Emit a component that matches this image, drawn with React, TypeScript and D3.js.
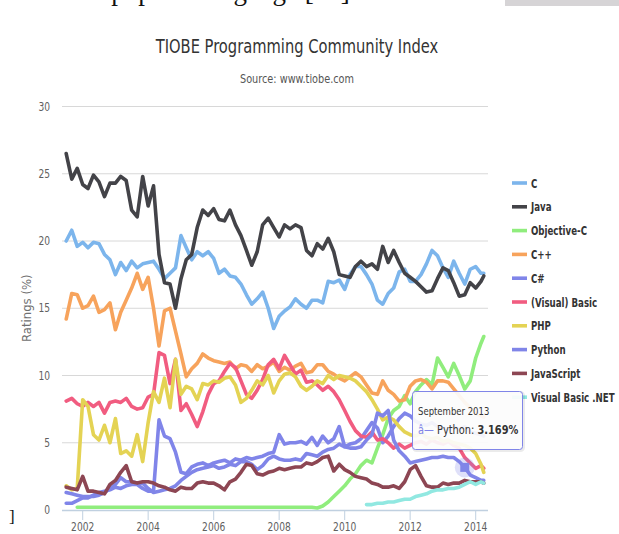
import * as d3 from "d3";

// bimonthly points, Jul 2001 .. Mar 2014, plus the last month (Apr 2014)
const dates: Date[] = [
  ...d3.timeMonth.every(2)!.range(new Date(2001, 6, 1), new Date(2014, 2, 2)),
  new Date(2014, 3, 1),
];

const names = ["C", "Java", "Objective-C", "C++", "C#", "(Visual) Basic", "PHP", "Python", "JavaScript", "Visual Basic .NET"];
const colors = ["#7cb5ec", "#434348", "#90ed7d", "#f7a35c", "#8085e9", "#f15c80", "#e4d354", "#8085e8", "#8d4653", "#91e8e1"];
const yTicks = [0, 5, 10, 15, 20, 25, 30];
const xTicks = [2002, 2004, 2006, 2008, 2010, 2012, 2014];

const cValues = [
  20.0, 20.8, 19.6, 19.9, 19.5, 19.9, 19.8, 19.0, 18.6, 17.5,
  18.4, 17.8, 18.5, 18.0, 18.3, 18.4, 18.5, 17.9, 17.2, 17.6,
  18.0, 20.4, 19.5, 18.6, 19.2, 18.9, 19.2, 18.7, 17.6, 17.9,
  17.4, 17.3, 16.8, 16.0, 15.3, 15.7, 16.2, 15.0, 13.5, 14.4,
  14.8, 15.1, 15.7, 15.3, 15.0, 15.6, 15.6, 15.4, 17.0, 16.9,
  17.1, 16.4, 17.5, 18.1, 18.1, 17.5, 16.8, 15.6, 15.3, 16.1,
  16.5, 17.7, 17.9, 17.0, 17.0, 17.5, 18.3, 19.3, 18.9, 18.0,
  17.3, 18.5, 17.6, 16.8, 17.9, 18.1, 17.6, 17.6,
];
const javaValues = [
  26.5, 24.6, 25.4, 24.2, 23.9, 24.9, 24.4, 23.3, 24.3, 24.3,
  24.8, 24.5, 22.3, 21.8, 24.8, 22.6, 24.1, 19.0, 16.9, 16.8,
  15.0, 17.2, 18.6, 19.0, 21.0, 22.3, 21.9, 22.4, 21.6, 21.5,
  22.3, 21.2, 20.4, 19.3, 18.2, 19.2, 21.2, 21.7, 21.0, 20.3,
  21.2, 20.9, 21.2, 21.0, 19.3, 18.9, 19.8, 19.4, 20.2, 19.2,
  17.5, 17.4, 17.3, 18.1, 18.5, 18.1, 18.3, 17.9, 19.6, 18.4,
  19.3, 18.4, 17.6, 17.3, 17.0, 16.6, 16.2, 16.3, 17.2, 18.0,
  17.8, 16.9, 15.9, 16.0, 16.9, 16.5, 17.0, 17.4,
];
// Objective-C starts in Nov 2001
const objcStart = 2;
const objcValues = [
  0.2, 0.2, 0.2, 0.2, 0.2, 0.2, 0.2, 0.2, 0.2, 0.2,
  0.2, 0.2, 0.2, 0.2, 0.2, 0.2, 0.2, 0.2, 0.2, 0.2,
  0.2, 0.2, 0.2, 0.2, 0.2, 0.2, 0.2, 0.2, 0.2, 0.2,
  0.2, 0.2, 0.2, 0.2, 0.2, 0.2, 0.2, 0.2, 0.2, 0.2,
  0.2, 0.2, 0.2, 0.2, 0.15, 0.3, 0.6, 1.0, 1.4, 1.8,
  2.3, 2.7, 3.3, 3.7, 3.5, 4.6, 5.6, 6.8, 7.4, 7.7,
  8.5, 7.9, 8.8, 9.3, 9.7, 9.3, 11.3, 10.6, 9.9, 10.9,
  10.0, 9.0, 9.6, 11.3, 12.4, 12.9,
];
const cppValues = [
  14.2, 16.1, 16.0, 15.0, 15.2, 15.9, 14.7, 14.9, 15.4, 13.4,
  14.7, 15.6, 16.5, 17.6, 16.4, 17.3, 15.0, 12.2, 14.8, 15.0,
  13.3, 11.6, 9.9, 10.5, 10.9, 11.6, 11.3, 11.1, 11.0, 10.9,
  11.0, 10.5, 10.8, 10.7, 10.3, 10.8, 10.5, 10.7, 11.0, 10.3,
  10.6, 10.4, 10.7, 10.9, 10.2, 10.3, 10.8, 10.8, 10.3, 10.1,
  9.8, 9.6, 9.9, 10.2, 9.9, 9.3, 8.7, 8.6, 9.6, 8.9,
  8.6, 8.1, 8.2, 9.2, 9.6, 9.7, 9.5, 9.0, 9.6, 9.6,
  9.5, 9.0, 8.5, 8.0, 7.6, 7.2, 7.0, 6.9,
];
const csharpValues = [
  0.5, 0.5, 0.7, 0.9, 0.9, 1.1, 1.3, 1.4, 1.5, 1.7,
  1.6, 1.8, 1.9, 1.9, 1.6, 1.4, 1.4, 6.7, 5.5, 5.3,
  4.3, 2.8, 2.7, 3.2, 3.4, 3.5, 3.3, 3.5, 3.6, 3.7,
  3.5, 3.8, 3.7, 3.9, 3.8, 3.9, 4.0, 4.2, 4.3, 5.6,
  4.9, 5.0, 5.0, 5.1, 4.9, 5.4, 4.8, 5.5, 5.0, 5.3,
  6.2, 4.7, 4.9, 5.0, 5.3, 5.9, 6.5, 6.1, 5.0, 5.5,
  6.2, 6.8, 7.2, 7.0, 6.6, 6.4, 6.3, 6.5, 6.2, 6.1,
  6.0, 6.2, 6.0, 6.2, 5.8, 5.7, 5.6, 5.5,
];
const vbValues = [
  8.1, 8.3, 7.9, 7.7, 8.0, 7.7, 8.0, 7.2, 8.0, 8.1,
  8.0, 8.3, 7.7, 7.5, 7.6, 8.4, 8.6, 11.7, 11.5, 9.4,
  11.2, 7.4, 7.9, 7.1, 6.2, 7.3, 8.6, 9.4, 9.6, 10.3,
  10.9, 10.6, 9.6, 8.6, 8.3, 8.9, 9.7, 10.8, 11.2, 10.5,
  11.5, 10.8, 10.1, 10.4, 9.5, 9.6, 9.3, 8.9, 9.2, 8.8,
  8.2, 7.4, 6.6, 5.9, 5.5, 5.4, 5.8, 5.2, 5.3, 5.0,
  4.6, 4.9, 4.6, 4.8, 5.0, 5.1, 4.9, 5.2, 5.0, 4.9,
  5.1, 4.8, 4.6, 3.9, 3.5, 3.1, 3.3, 3.1,
];
const phpValues = [
  1.8, 1.5, 1.6, 8.2, 7.7, 5.6, 5.2, 6.3, 5.0, 6.8,
  4.2, 4.4, 4.0, 5.6, 3.6, 6.5, 8.8, 8.0, 9.8, 7.6,
  11.2, 8.6, 9.2, 9.0, 8.2, 9.4, 9.3, 9.6, 9.5, 9.8,
  9.9, 9.3, 8.0, 8.3, 8.9, 9.6, 9.3, 10.0, 8.7, 9.6,
  10.1, 10.2, 9.9, 9.2, 8.9, 9.2, 9.6, 9.4, 10.0, 9.7,
  10.0, 9.9, 9.8, 9.6, 9.2, 8.8, 8.2, 7.5, 6.7, 6.9,
  6.7, 6.2, 5.8, 5.6, 5.5, 5.7, 5.4, 5.3, 5.4, 5.1,
  5.2, 5.0, 4.9, 4.8, 4.6, 4.2, 3.4, 2.8,
];
const pythonValues = [
  1.3, 1.2, 1.1, 1.0, 1.0, 1.0, 1.1, 1.3, 1.6, 1.9,
  2.4, 2.1, 2.1, 2.0, 2.0, 1.6, 1.3, 1.4, 1.5, 1.6,
  1.8, 2.2, 2.5, 2.8, 3.0, 3.1, 3.2, 3.3, 3.1, 3.2,
  3.4, 3.3, 3.6, 3.6, 3.4, 3.0, 3.3, 3.8, 4.0, 3.8,
  3.7, 3.7, 3.8, 3.7, 4.2, 4.1, 4.0, 4.3, 4.5, 4.6,
  4.9, 4.7, 4.6, 4.6, 4.7, 5.2, 5.6, 7.2, 7.0, 7.4,
  5.2, 4.4, 4.0, 3.5, 3.6, 3.7, 3.8, 3.9, 3.9, 4.0,
  3.9, 3.9, 3.6, 3.169, 2.6, 2.4, 2.2, 2.2,
];
const jsValues = [
  1.7, 1.6, 1.5, 2.5, 1.4, 1.4, 1.3, 1.2, 1.9, 2.2,
  2.8, 3.3, 2.1, 2.0, 2.1, 2.1, 2.0, 1.8, 1.7, 1.5,
  1.4, 1.7, 1.6, 1.6, 2.0, 2.1, 2.0, 2.0, 1.8, 1.5,
  2.1, 2.3, 2.8, 3.4, 3.3, 2.7, 2.6, 2.8, 2.9, 3.1,
  3.0, 3.1, 3.2, 3.2, 3.5, 3.4, 3.6, 3.9, 4.0, 2.9,
  3.4, 3.0, 2.8, 2.5, 2.4, 2.3, 2.0, 1.9, 1.7, 1.7,
  1.8, 1.6, 2.1, 3.0, 3.3, 2.5, 1.8, 1.7, 1.7, 2.0,
  1.9, 2.0, 2.0, 2.2, 2.1, 2.1, 2.1, 2.0,
];
// Visual Basic .NET starts in Jan 2011
const vbnetStart = 55;
const vbnetValues = [
  0.4, 0.4, 0.5, 0.5, 0.6, 0.6, 0.7, 0.8, 0.8, 1.0,
  1.1, 1.2, 1.4, 1.5, 1.5, 1.6, 1.6, 1.7, 1.9, 2.1,
  1.9, 2.1, 2.0,
];

const seriesValues = [cValues, javaValues, objcValues, cppValues, csharpValues, vbValues, phpValues, pythonValues, jsValues, vbnetValues];
const seriesStart = [0, 0, objcStart, 0, 0, 0, 0, 0, 0, vbnetStart];

const tipSeries = 7;
const tipIndex = 73;
const tipLabel = "September 2013";

const W = 619;
const H = 534;
const font = "'DejaVu Sans Condensed', 'DejaVu Sans', sans-serif";
const serif = "'Liberation Serif', 'DejaVu Serif', serif";

// narrow text: the original uses a condensed face, so squeeze the glyphs horizontally
function NText({ x, y, sx = 0.85, children, ...rest }: any) {
  return (
    <g transform={`translate(${x},${y}) scale(${sx},1)`}>
      <text x={0} y={0} {...rest}>{children}</text>
    </g>
  );
}

export default function App() {
  const x = d3.scaleTime([new Date(2002, 0, 1), new Date(2014, 0, 1)], [82.7, 475.7]);
  const y = d3.scaleLinear([0, 30], [510, 106.5]);
  const plotLeft = 62;
  const plotRight = 488;
  const line = d3
    .line<[Date, number]>()
    .x((d) => x(d[0]))
    .y((d) => y(d[1]));

  const tipX = x(dates[tipIndex]);
  const tipY = y(pythonValues[tipIndex]);

  return (
    <svg width={W} height={H} style={{ position: "absolute", left: 0, top: 0, background: "#fff" }} fontFamily={font}>
      {/* bits of the surrounding page */}
      <text x={52} y={-0.5} fontFamily={serif} fontSize={27} fill="#111">most popular language [13].</text>
      <rect x={505} y={0} width={114} height={6} fill="#d6d4d6" />
      <text x={9} y={522} fontFamily={serif} fontSize={17} fill="#111">]</text>

      <NText x={297} y={53} sx={0.86} textAnchor="middle" fontSize={19} fill="#333">TIOBE Programming Community Index</NText>
      <NText x={297} y={83} sx={0.9} textAnchor="middle" fontSize={12} fill="#555">Source: www.tiobe.com</NText>

      {/* grid + y axis */}
      <g>
        {yTicks.map((t) => (
          <g key={t}>
            {t > 0 && <line x1={plotLeft} x2={plotRight} y1={y(t)} y2={y(t)} stroke="#d8d8d8" strokeWidth={1} />}
            <NText x={50} y={y(t) + 4} sx={0.88} textAnchor="end" fontSize={11.5} fill="#606060">{t}</NText>
          </g>
        ))}
        <g transform={`translate(31,${y(15)}) rotate(-90)`}>
          <text x={0} y={0} textAnchor="middle" fontSize={13} fill="#707070">Ratings (%)</text>
        </g>
      </g>

      {/* x axis */}
      <g>
        <line x1={plotLeft} x2={plotRight} y1={510.5} y2={510.5} stroke="#c0d0e0" strokeWidth={1.5} />
        {xTicks.map((t) => {
          const px = x(new Date(t, 0, 1));
          return (
            <g key={t}>
              <line x1={px} x2={px} y1={510} y2={520} stroke="#c0d0e0" strokeWidth={1} />
              <NText x={px} y={531} sx={0.88} textAnchor="middle" fontSize={11.5} fill="#606060">{t}</NText>
            </g>
          );
        })}
      </g>

      {/* series */}
      <g fill="none" strokeLinejoin="round" strokeLinecap="round">
        {seriesValues.map((vals, s) => {
          const pts = vals.map((v, i) => [dates[seriesStart[s] + i], v] as [Date, number]);
          return <path key={names[s]} d={line(pts) || undefined} stroke={colors[s]} strokeWidth={3.6} />;
        })}
      </g>

      {/* hover marker */}
      <circle cx={tipX} cy={tipY} r={10} fill={colors[tipSeries]} opacity={0.25} />
      <rect x={tipX - 4.5} y={tipY - 4.5} width={9} height={9} fill={colors[tipSeries]} />

      {/* legend */}
      <g>
        {names.map((n, i) => {
          const ly = 183 + i * 23.8;
          return (
            <g key={n}>
              <line x1={512} x2={527} y1={ly} y2={ly} stroke={colors[i]} strokeWidth={3.6} />
              <NText x={531} y={ly + 4.5} sx={0.74} fontSize={13} fontWeight="bold" fill="#333">{n}</NText>
            </g>
          );
        })}
      </g>

      {/* tooltip */}
      <g>
        <rect x={413.5} y={392.5} width={110} height={58} rx={3} fill="none" stroke="#000" strokeOpacity={0.08} strokeWidth={3} />
        <rect x={412.5} y={391.5} width={110} height={58} rx={3} fill="rgba(252,252,252,0.93)" stroke={colors[tipSeries]} strokeWidth={1} />
        <NText x={418} y={415} sx={0.86} fontSize={11} fill="#333">{tipLabel}</NText>
        <NText x={418} y={434} sx={0.84} fontSize={13} fill="#333">
          <tspan fill={colors[tipSeries]}>â—</tspan>
          <tspan> {names[tipSeries]}: </tspan>
          <tspan fontWeight="bold">{pythonValues[tipIndex]}%</tspan>
        </NText>
      </g>
    </svg>
  );
}
